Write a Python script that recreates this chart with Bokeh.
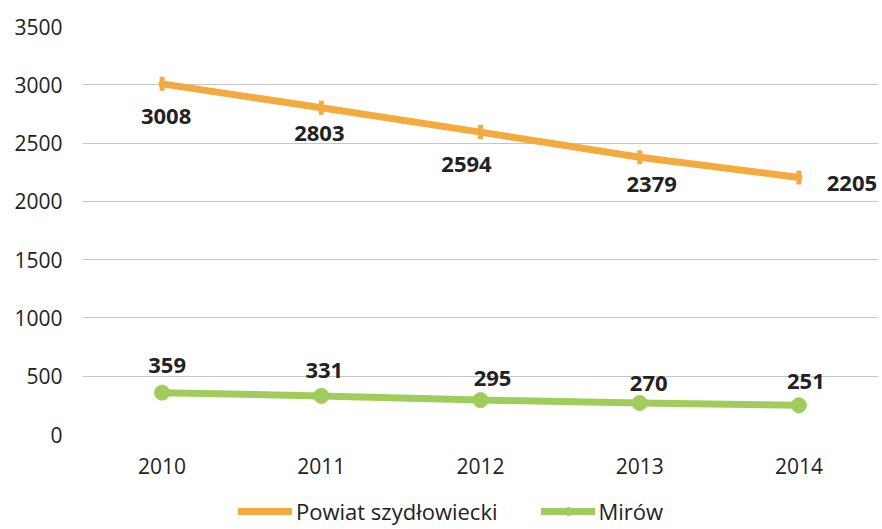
import math
from bokeh.plotting import figure
from bokeh.layouts import column
from bokeh.models import FactorRange, Range1d, ColumnDataSource, Legend, LegendItem, FixedTicker
from bokeh.embed import file_html
from bokeh.resources import INLINE
from bokeh.core.properties import value

# ---- data ----
years = ["2010", "2011", "2012", "2013", "2014"]
powiat = [3008, 2803, 2594, 2379, 2205]
mirow = [359, 331, 295, 270, 251]
y_ticks = [0, 500, 1000, 1500, 2000, 2500, 3000, 3500]
series_names = ["Powiat szydłowiecki", "Mirów"]

# ---- label offsets (screen px, style only) ----
powiat_dx = [4, -2, -14, 12, 53]
powiat_dy = [33, 26, 32, 27, 6]
mirow_dx = [5, 3, 12, 9, 7]
mirow_dy = [-27, -25, -22, -20, -24]

ORANGE = "#F4AA3E"
GREEN = "#A0CC5B"
FONT = "Open Sans"
TXT = "#222222"

p = figure(x_range=FactorRange(*years), y_range=Range1d(0, 3500),
           width=882, height=490, output_backend="svg", toolbar_location=None,
           min_border_left=82, min_border_right=4, min_border_top=26, min_border_bottom=56)
p.outline_line_color = None
p.background_fill_color = "white"
p.border_fill_color = "white"

p.xgrid.grid_line_color = None
p.ygrid.grid_line_color = "#c6c6c6"
p.ygrid.grid_line_width = 1

p.yaxis.ticker = FixedTicker(ticks=y_ticks)
for ax in (p.xaxis[0], p.yaxis[0]):
    ax.axis_line_color = None
    ax.major_tick_line_color = None
    ax.minor_tick_line_color = None
    ax.major_tick_out = 0
    ax.major_tick_in = 0
    ax.major_label_text_font = FONT
    ax.major_label_text_font_size = "21px"
    ax.major_label_text_color = TXT
p.yaxis.major_label_standoff = 20
p.xaxis.major_label_standoff = 23

src_p = ColumnDataSource(dict(x=years, y=powiat, t=[str(v) for v in powiat], dx=powiat_dx, dy=powiat_dy))
src_m = ColumnDataSource(dict(x=years, y=mirow, t=[str(v) for v in mirow], dx=mirow_dx, dy=mirow_dy))


def draw_series(fig):
    r1 = fig.line('x', 'y', source=src_p, line_color=ORANGE, line_width=7, line_join="round", line_cap="round")
    m1 = fig.scatter('x', 'y', source=src_p, marker='dash', angle=math.pi / 2, size=14,
                     line_color=ORANGE, line_width=5, fill_color=ORANGE)
    r2 = fig.line('x', 'y', source=src_m, line_color=GREEN, line_width=7, line_join="round", line_cap="round")
    m2 = fig.scatter('x', 'y', source=src_m, marker='circle', size=15, line_color=GREEN, fill_color=GREEN)
    return r1, m1, r2, m2


draw_series(p)
for src in (src_p, src_m):
    p.text('x', 'y', text='t', source=src, x_offset='dx', y_offset='dy',
           text_align='center', text_baseline='middle', text_font=value(FONT),
           text_font_style='bold', text_font_size='22px', text_color=TXT)

# ---- legend strip below the chart (series drawn outside its view, only the legend shows) ----
p2 = figure(x_range=FactorRange(*years), y_range=Range1d(-20000, -19000),
            width=882, height=39, output_backend="svg", toolbar_location=None,
            x_axis_type=None, y_axis_type=None,
            min_border_left=0, min_border_right=0, min_border_top=0, min_border_bottom=0)
p2.outline_line_color = None
p2.grid.visible = False
r1, m1, r2, m2 = draw_series(p2)

legend = Legend(items=[LegendItem(label=series_names[0], renderers=[r1, m1]),
                       LegendItem(label=series_names[1], renderers=[r2, m2])],
                orientation='horizontal', location=(156, 3), padding=0, margin=0,
                spacing=43, glyph_width=54, glyph_height=20, label_height=20,
                label_standoff=4, label_text_font=FONT, label_text_font_size='22px',
                label_text_color=TXT, border_line_color=None, background_fill_alpha=0)
p2.add_layout(legend, 'center')

open("out.html", "w").write(file_html(column(p, p2, spacing=0), INLINE))
